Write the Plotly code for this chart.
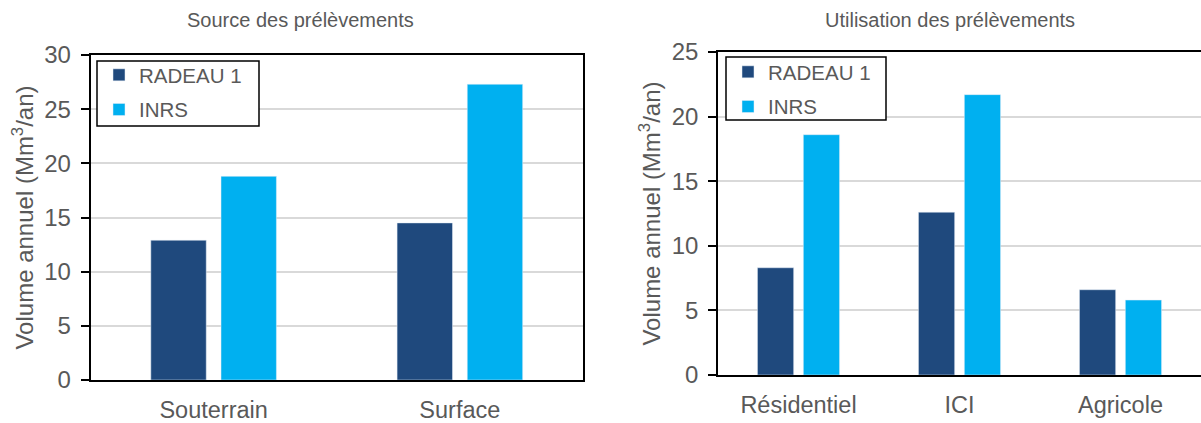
import plotly.graph_objects as go

# Data
source_categories = ["Souterrain", "Surface"]
source_radeau = [12.9, 14.5]
source_inrs = [18.8, 27.3]

usage_categories = ["Résidentiel", "ICI", "Agricole"]
usage_radeau = [8.3, 12.6, 6.6]
usage_inrs = [18.6, 21.7, 5.8]

series_names = ["RADEAU 1", "INRS"]
left_ticks = [0, 5, 10, 15, 20, 25, 30]
right_ticks = [0, 5, 10, 15, 20, 25]

DARK = "#1F497D"
LIGHT = "#00B0F0"
GREY = "#595959"
FONT = "Liberation Sans, Arial, sans-serif"
W, H = 1201, 423

# Bar geometry in category units
BAR_W = 0.225
DARK_OFF = -0.255
LIGHT_OFF = 0.030


def px_x(v):
    return v / W


def px_y(v):
    return 1 - v / H


fig = go.Figure()

# Left panel: source of withdrawals
fig.add_trace(go.Bar(x=source_categories, y=source_radeau, name=series_names[0],
                     marker_color=DARK, width=BAR_W, offset=DARK_OFF,
                     xaxis="x", yaxis="y", legend="legend", legendgroup="a"))
fig.add_trace(go.Bar(x=source_categories, y=source_inrs, name=series_names[1],
                     marker_color=LIGHT, width=BAR_W, offset=LIGHT_OFF,
                     xaxis="x", yaxis="y", legend="legend", legendgroup="b"))
# Right panel: use of withdrawals
fig.add_trace(go.Bar(x=usage_categories, y=usage_radeau, name=series_names[0],
                     marker_color=DARK, width=BAR_W, offset=DARK_OFF,
                     xaxis="x2", yaxis="y2", legend="legend2", legendgroup="c"))
fig.add_trace(go.Bar(x=usage_categories, y=usage_inrs, name=series_names[1],
                     marker_color=LIGHT, width=BAR_W, offset=LIGHT_OFF,
                     xaxis="x2", yaxis="y2", legend="legend2", legendgroup="d"))

ytitle = dict(text="Volume annuel (Mm<sup>3</sup>/an)",
              font=dict(family=FONT, size=24, color=GREY), standoff=4)

yaxis_common = dict(
    showline=True, linecolor="black", mirror=True, linewidth=1.5,
    ticks="outside", ticklen=8, tickcolor="black", tickwidth=1.5,
    ticklabelstandoff=5,
    gridcolor="#D9D9D9", gridwidth=2,
    tickfont=dict(family=FONT, size=24, color=GREY),
    title=ytitle, fixedrange=True, automargin=False,
)
xaxis_common = dict(
    showline=True, linecolor="black", mirror=True, linewidth=2,
    ticks="", ticklabelstandoff=8, automargin=False,
    tickfont=dict(family=FONT, size=23.5, color=GREY),
)
legend_common = dict(
    xanchor="left", yanchor="top", bgcolor="rgba(0,0,0,0)", borderwidth=0,
    tracegroupgap=5, font=dict(family=FONT, size=20.5, color=GREY),
)

fig.update_layout(
    width=W, height=H,
    margin=dict(l=0, r=0, t=0, b=0),
    paper_bgcolor="white", plot_bgcolor="white",
    barmode="overlay",
    showlegend=True,
    font=dict(family=FONT, color=GREY),
    xaxis=dict(domain=[px_x(90.5), px_x(583)], anchor="y", **xaxis_common),
    yaxis=dict(domain=[px_y(380), px_y(55)], anchor="x", range=[0, 30],
               tickvals=left_ticks, **yaxis_common),
    xaxis2=dict(domain=[px_x(718), 1.0], anchor="y2", **xaxis_common),
    yaxis2=dict(domain=[px_y(375), px_y(52)], anchor="x2", range=[0, 25],
                tickvals=right_ticks, **yaxis_common),
    legend=dict(x=px_x(99), y=px_y(55), **legend_common),
    legend2=dict(x=px_x(728), y=px_y(52), **legend_common),
    annotations=[
        dict(text="Source des prélèvements", x=px_x(300), y=px_y(20),
             xanchor="center", yanchor="middle",
             xref="paper", yref="paper", showarrow=False,
             font=dict(family=FONT, size=20, color=GREY)),
        dict(text="Utilisation des prélèvements", x=px_x(950), y=px_y(20),
             xanchor="center", yanchor="middle",
             xref="paper", yref="paper", showarrow=False,
             font=dict(family=FONT, size=20, color=GREY)),
    ],
    shapes=[
        dict(type="rect", xref="paper", yref="paper",
             x0=px_x(97), x1=px_x(259), y0=px_y(126), y1=px_y(61),
             line=dict(color="black", width=1.5), fillcolor="white", layer="above"),
        dict(type="rect", xref="paper", yref="paper",
             x0=px_x(726), x1=px_x(886), y0=px_y(120), y1=px_y(57),
             line=dict(color="black", width=1.5), fillcolor="white", layer="above"),
    ],
)

fig.write_html("out.html")
